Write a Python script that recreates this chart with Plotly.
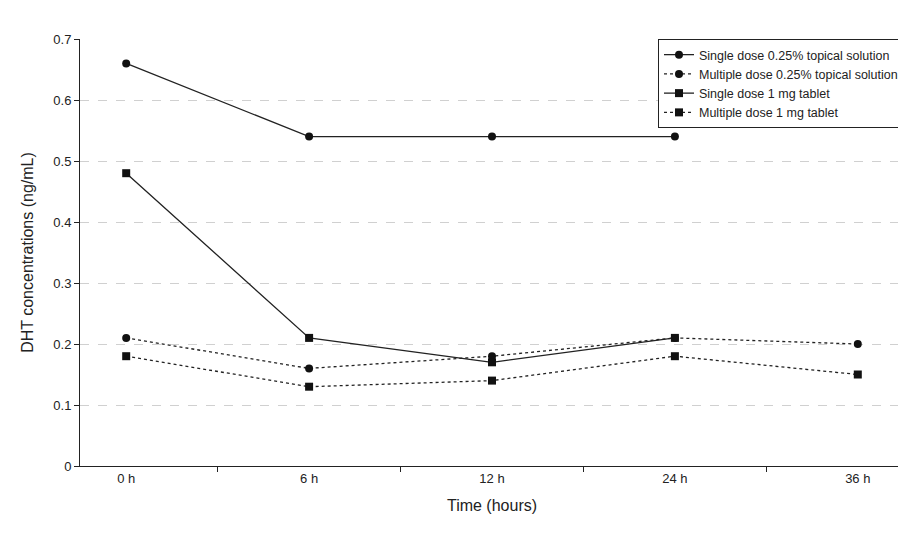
import plotly.graph_objects as go

categories = ["0 h", "6 h", "12 h", "24 h", "36 h"]
single_topical = [0.66, 0.54, 0.54, 0.54, None]
multiple_topical = [0.21, 0.16, 0.18, 0.21, 0.20]
single_tablet = [0.48, 0.21, 0.17, 0.21, None]
multiple_tablet = [0.18, 0.13, 0.14, 0.18, 0.15]

series = [
    ("Single dose 0.25% topical solution", single_topical, "solid", "circle"),
    ("Multiple dose 0.25% topical solution", multiple_topical, "dot", "circle"),
    ("Single dose 1 mg tablet", single_tablet, "solid", "square"),
    ("Multiple dose 1 mg tablet", multiple_tablet, "dot", "square"),
]

fig = go.Figure()
for name, vals, dash, sym in series:
    fig.add_trace(go.Scatter(
        x=categories, y=vals, name=name, mode="lines+markers",
        line=dict(color="#222222", width=1.3, dash=dash),
        marker=dict(symbol=sym, size=8, color="#111111"),
        connectgaps=False,
    ))

fig.update_layout(
    width=906, height=536, plot_bgcolor="white", paper_bgcolor="white",
    margin=dict(l=72, r=10, t=31, b=78),
    font=dict(family="Liberation Sans, Arial", size=13, color="#222"),
    legend=dict(x=1, y=1, xanchor="right", yanchor="top", bordercolor="#222",
                borderwidth=1, bgcolor="white", font=dict(size=12.5), tracegroupgap=0),
    xaxis=dict(title=dict(text="Time (hours)"), showline=True, linecolor="#222",
               tickson="boundaries", ticks="outside", ticklen=5, tickcolor="#222",
               showgrid=False),
    yaxis=dict(title=dict(text="DHT concentrations (ng/mL)"), range=[0, 0.7],
               dtick=0.1, showline=True, linecolor="#222", ticks="outside",
               ticklen=5, tickcolor="#222", gridcolor="#d0d0d0", griddash="dash",
               tickformat="~g", zeroline=False),
)
fig.write_html("out.html")
